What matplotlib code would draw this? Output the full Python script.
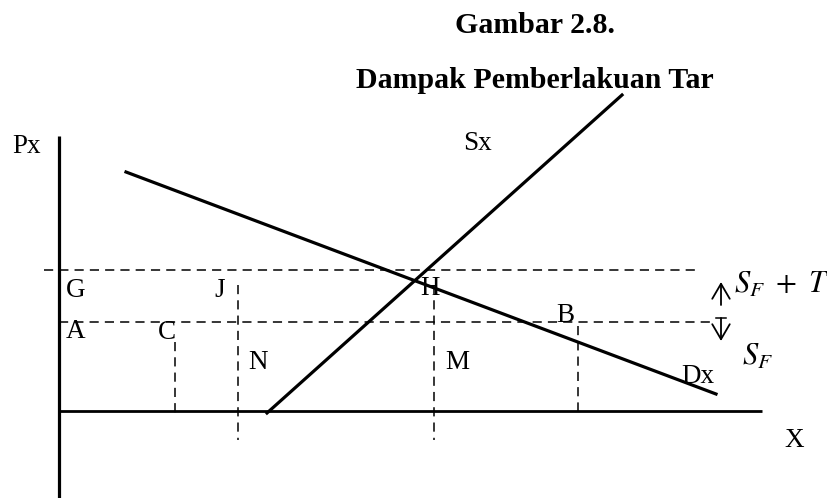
import matplotlib
matplotlib.use("Agg")
import matplotlib.pyplot as plt

# ---- data (diagram coordinates: x to the right, y downward like the page) ----
axis_x = [59, 59]
axis_y = [136, 498]
xaxis_x = [59, 762]
xaxis_y = [411, 411]

supply_x = [267, 622]
supply_y = [413, 95]
demand_x = [126, 716]
demand_y = [172, 394]

# horizontal dashed price lines: (x_start, x_end, y)
price_lines = [(44, 698, 270), (59, 712, 322)]
# vertical dashed lines: (x, y_top, y_bottom)
vert_lines = [(175, 342, 418), (238, 285, 440), (434, 285, 440), (578, 326, 413)]

# point labels (baseline positions): (text, x, y)
labels = [("G", 76, 297), ("J", 220, 297), ("A", 76, 338), ("C", 167, 339),
          ("N", 258, 369), ("H", 430, 295), ("M", 457, 369), ("B", 565, 322),
          ("Dx", 698, 383), ("X", 794, 447), ("Px", 27, 153), ("Sx", 478, 150)]

title1 = "Gambar 2.8."
title2 = "Dampak Pemberlakuan Tar"

fig = plt.figure(figsize=(8.28, 4.98), dpi=100)
ax = fig.add_axes([0, 0, 1, 1])
ax.set_xlim(0, 828)
ax.set_ylim(498, 0)
ax.axis("off")

serif = ["Liberation Serif", "DejaVu Serif"]

ax.plot(axis_x, axis_y, color="black", lw=2.3, solid_capstyle="butt")
ax.plot(xaxis_x, xaxis_y, color="black", lw=2.0, solid_capstyle="butt")
ax.plot(supply_x, supply_y, color="black", lw=2.3)
ax.plot(demand_x, demand_y, color="black", lw=2.3)

for x0, x1, y in price_lines:
    ax.plot([x0, x1], [y, y], color="black", lw=1.1, dashes=(6, 4))
for x, y0, y1 in vert_lines:
    ax.plot([x, x], [y0, y1], color="black", lw=1.1, dashes=(6, 4))

for t, x, y in labels:
    ax.text(x, y, t, family=serif, fontsize=19.5, ha="center", va="baseline")

ax.text(535, 33, title1, family=serif, fontsize=21.5, fontweight="bold",
        ha="center", va="baseline")
ax.text(535, 88, title2, family=serif, fontsize=21.5, fontweight="bold",
        ha="center", va="baseline")

# tariff arrows
arrow_style = "->,head_length=0.6,head_width=0.35"
ax.annotate("", xy=(721, 282), xytext=(721, 305),
            arrowprops=dict(arrowstyle=arrow_style, lw=1.3, color="black",
                            mutation_scale=18, shrinkA=0, shrinkB=0))
ax.annotate("", xy=(721, 341), xytext=(721, 318),
            arrowprops=dict(arrowstyle=arrow_style, lw=1.3, color="black",
                            mutation_scale=18, shrinkA=0, shrinkB=0))
ax.plot([716, 726], [318, 318], color="black", lw=1.1)

ax.text(734, 293, r"$S_F\ +\ T$", fontsize=22, ha="left", va="baseline",
        math_fontfamily="stix")
ax.text(742, 365, r"$S_F$", fontsize=22, ha="left", va="baseline",
        math_fontfamily="stix")

fig.savefig("out.png", dpi=100)
